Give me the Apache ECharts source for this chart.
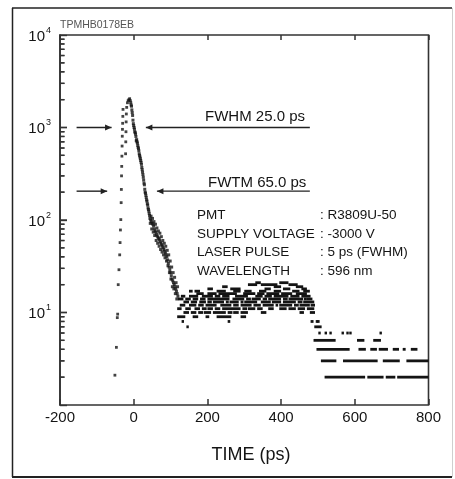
<!DOCTYPE html>
<html>
<head>
<meta charset="utf-8">
<script src="https://cdn.jsdelivr.net/npm/echarts@6/dist/echarts.min.js"></script>
<style>html,body{margin:0;padding:0;background:#fff;}#c{width:455px;height:479px;}</style>
</head>
<body>
<div id="c"></div>
<script>
// ---- data (time in ps, counts) ----
const riseT = [-51, -47, -44.5, -43.5, -42, -40, -38, -37, -36, -35, -34, -33.5, -33, -32.5, -32, -31.5, -31, -30.5, -30, -29.5, -29,
               -22, -21.5, -21, -20.5, -20, -19, -17, -15, -13, -11, -9];
const riseV = [2.1, 4.2, 8.8, 9.6, 20, 29, 42, 57, 78, 101, 154, 214, 300, 380, 490, 630, 805, 955, 1110, 1320, 1570,
               520, 700, 900, 1150, 1400, 1650, 1850, 1950, 2000, 2050, 1950];
const decayT = [-8, -6, -4, -2, 0, 2, 4, 6, 8, 10, 12, 14, 16, 18, 20, 22, 24, 26, 28, 30, 32, 34, 36, 38, 40, 42, 44, 46, 48, 50,
                52, 54, 56, 58, 60, 62, 64, 66, 68, 70, 72, 74, 76, 78, 80, 82, 84, 86, 88, 90, 92, 94, 96, 98, 100, 102, 104, 106, 108, 110,
                112, 114, 116, 118, 120];
const decayV = [1850, 1700, 1450, 1200, 1050, 960, 880, 800, 740, 680, 610, 560, 500, 460, 420, 370, 330, 290, 250, 215, 195, 175, 160, 145, 130, 118, 104, 100, 96, 92,
                90, 86, 80, 76, 74, 70, 67, 65, 63, 61, 58, 56, 54, 52, 50, 48, 46, 44, 42, 40, 37, 34, 31, 29, 27, 25, 23, 22, 21, 20,
                19, 18, 17, 16, 15];
const decay2T = [-7, -5, -3, -1, 1, 3, 5, 7, 9, 11, 13, 15, 17, 19, 21, 23, 25, 27, 29, 31, 33, 35, 37, 39, 41, 43, 45, 47, 49, 51,
                 53, 55, 57, 59, 61, 63, 65, 67, 69, 71, 73, 75, 77, 79, 81, 83, 85, 87, 89, 91, 93, 95, 97, 99, 101, 103, 105, 107, 109, 111,
                 113, 115, 117, 119];
const decay2V = [1750, 1550, 1350, 1100, 1000, 900, 850, 720, 700, 640, 590, 520, 480, 440, 400, 350, 310, 270, 240, 200, 185, 165, 150, 135, 125, 112, 92, 110, 80, 104,
                 74, 96, 68, 90, 60, 82, 56, 76, 52, 72, 48, 66, 45, 60, 42, 56, 39, 52, 36, 47, 32, 42, 27, 36, 23, 31, 19, 27, 18, 24,
                 16, 21, 14, 19];
// runs of channels at the same count: [t start, t end, count]
const plateauRuns = [
  [330, 345, 21], [395, 420, 21],
  [310, 335, 20], [345, 390, 20], [420, 445, 20],
  [240, 255, 19], [380, 400, 19], [440, 460, 19],
  [200, 215, 18], [262, 290, 18], [355, 372, 18], [405, 425, 18], [455, 470, 18],
  [150, 160, 17], [165, 180, 17], [225, 250, 17], [270, 290, 17], [300, 320, 17], [340, 360, 17], [380, 400, 17], [430, 450, 17], [460, 478, 17],
  [170, 190, 16], [200, 225, 16], [230, 280, 16], [297, 330, 16], [335, 355, 16], [360, 395, 16], [400, 430, 16], [440, 470, 16],
  [128, 140, 15], [150, 175, 15], [185, 215, 15], [220, 235, 15], [240, 260, 15], [275, 310, 15], [330, 350, 15], [355, 375, 15], [380, 420, 15], [425, 450, 15], [455, 480, 15],
  [120, 135, 14], [140, 155, 14], [160, 175, 14], [180, 195, 14], [200, 260, 14], [268, 300, 14], [305, 318, 14], [320, 345, 14], [350, 362, 14], [365, 400, 14], [405, 418, 14], [420, 460, 14], [462, 470, 14], [470, 485, 14],
  [135, 150, 13], [155, 172, 13], [178, 196, 13], [200, 212, 13], [215, 245, 13], [250, 258, 13], [260, 285, 13], [290, 298, 13], [300, 335, 13], [345, 372, 13], [375, 400, 13], [405, 440, 13], [445, 458, 13], [460, 490, 13],
  [125, 140, 12], [150, 170, 12], [175, 190, 12], [195, 225, 12], [235, 265, 12], [270, 285, 12], [290, 320, 12], [325, 345, 12], [350, 380, 12], [385, 392, 12], [395, 430, 12], [435, 448, 12], [450, 478, 12], [480, 492, 12],
  [118, 130, 11], [140, 155, 11], [165, 180, 11], [185, 198, 11], [200, 215, 11], [220, 235, 11], [240, 290, 11], [295, 308, 11], [310, 330, 11], [335, 350, 11], [365, 380, 11], [395, 415, 11], [420, 440, 11], [445, 465, 11], [470, 490, 11],
  [135, 150, 10], [155, 170, 10], [175, 188, 10], [190, 210, 10], [215, 250, 10], [255, 268, 10], [270, 285, 10], [290, 310, 10], [345, 360, 10], [450, 462, 10], [478, 492, 10],
  [118, 140, 9], [160, 175, 9], [195, 205, 9], [225, 265, 9], [290, 305, 9],
  [130, 136, 8], [255, 262, 8], [480, 488, 8],
  [143, 147, 7]
];
const tailRuns = [
  [494, 500, 8], [498, 503, 8],
  [490, 510, 7],
  [501, 504, 6], [518, 521, 6], [531, 534, 6], [564, 567, 6], [577, 580, 6], [585, 588, 6], [667, 670, 6],
  [488, 548, 5], [606, 626, 5], [650, 671, 5],
  [496, 586, 4], [610, 630, 4], [642, 660, 4], [665, 690, 4], [703, 720, 4], [730, 738, 4], [752, 770, 4],
  [508, 550, 3], [568, 662, 3], [676, 722, 3], [740, 800, 3],
  [518, 628, 2], [634, 678, 2], [684, 710, 2], [715, 800, 2]
];
const majorTicks = [10, 100, 1000];
const minorTicks = [2, 3, 4, 5, 6, 7, 8, 9, 20, 30, 40, 50, 60, 70, 80, 90, 200, 300, 400, 500, 600, 700, 800, 900,
                    2000, 3000, 4000, 5000, 6000, 7000, 8000, 9000];
// annotation levels and arrow ends (ps): [from, arrow tip]
const fwhmLevel = 1000, fwtmLevel = 205;
const fwhmArrows = [[-155, -60], [478, 33]];
const fwtmArrows = [[-155, -72], [478, 63]];
const infoLabels = ['PMT', 'SUPPLY VOLTAGE', 'LASER PULSE', 'WAVELENGTH'];
const infoValues = [': R3809U-50', ': -3000 V', ': 5 ps (FWHM)', ': 596 nm'];

const FONT = 'Liberation Sans, Arial, Helvetica, sans-serif';
const INK = '#141414';
const zip = (a, b) => a.map((v, i) => [v, b[i]]);

const runItem = function (params, api) {
  const p1 = api.coord([api.value(0), api.value(2)]);
  const p2 = api.coord([api.value(1), api.value(2)]);
  return {type: 'rect', shape: {x: p1[0], y: p1[1] - 1.4, width: Math.max(p2[0] - p1[0], 2.4), height: 2.8},
          style: {fill: INK}};
};
const minorItem = function (params, api) {
  const p = api.coord([api.value(0), api.value(1)]);
  return {type: 'rect', shape: {x: p[0], y: p[1] - 0.7, width: 4.5, height: 1.4}, style: {fill: '#333'}};
};
const arrowItem = function (params, api) {
  const a = api.coord([api.value(0), api.value(2)]);
  const b = api.coord([api.value(1), api.value(2)]);
  const dir = b[0] > a[0] ? 1 : -1;
  return {type: 'group', children: [
    {type: 'rect', shape: {x: Math.min(a[0], b[0]), y: a[1] - 0.7, width: Math.abs(b[0] - a[0]), height: 1.4}, style: {fill: '#222'}},
    {type: 'polygon', shape: {points: [[b[0], b[1]], [b[0] - dir * 6.5, b[1] - 3], [b[0] - dir * 6.5, b[1] + 3]]}, style: {fill: '#222'}}
  ]};
};
const arrowData = fwhmArrows.map(p => [p[0], p[1], fwhmLevel]).concat(fwtmArrows.map(p => [p[0], p[1], fwtmLevel]));

const graphic = [
  {id: 'f1', type: 'line', shape: {x1: 12, y1: 8, x2: 452, y2: 8}, style: {stroke: '#222', lineWidth: 1.5}},
  {id: 'f2', type: 'line', shape: {x1: 12.5, y1: 8, x2: 12.5, y2: 477}, style: {stroke: '#222', lineWidth: 1.5}},
  {id: 'f3', type: 'line', shape: {x1: 12, y1: 477, x2: 452, y2: 477}, style: {stroke: '#222', lineWidth: 2}},
  {id: 'f4', type: 'line', shape: {x1: 452.5, y1: 8, x2: 452.5, y2: 477}, style: {stroke: '#cfcfcf', lineWidth: 1}},
  {id: 'code', type: 'text', x: 60, y: 25, style: {text: 'TPMHB0178EB', fontSize: 10.5, fontFamily: FONT, fill: '#555', verticalAlign: 'middle'}},
  {id: 'fwhm', type: 'text', x: 205, y: 117, style: {text: 'FWHM 25.0 ps', fontSize: 15, fontFamily: FONT, fill: INK, verticalAlign: 'middle'}},
  {id: 'fwtm', type: 'text', x: 208, y: 183, style: {text: 'FWTM 65.0 ps', fontSize: 15, fontFamily: FONT, fill: INK, verticalAlign: 'middle'}},
  {id: 'xname', type: 'text', x: 251, y: 455, style: {text: 'TIME (ps)', fontSize: 18, fontFamily: FONT, fill: INK, align: 'center', verticalAlign: 'middle'}}
];
infoLabels.forEach((t, i) => {
  graphic.push({id: 'il' + i, type: 'text', x: 197, y: 215.5 + i * 18.5, style: {text: t, fontSize: 13.5, fontFamily: FONT, fill: INK, verticalAlign: 'middle'}});
  graphic.push({id: 'iv' + i, type: 'text', x: 320, y: 215.5 + i * 18.5, style: {text: infoValues[i], fontSize: 13.5, fontFamily: FONT, fill: INK, verticalAlign: 'middle'}});
});

const chart = echarts.init(document.getElementById('c'), null, {renderer: 'canvas'});
const xCommon = {type: 'value', min: -200, max: 800, interval: 200, splitLine: {show: false}, axisLine: {show: false, onZero: false}};
chart.setOption({
  animation: false,
  backgroundColor: '#fff',
  grid: {left: 60, top: 35, right: 26.5, bottom: 74, show: true, borderColor: '#333', borderWidth: 1.6, backgroundColor: 'transparent'},
  xAxis: [
    Object.assign({}, xCommon, {position: 'bottom',
      axisTick: {show: true, inside: true, length: 6, lineStyle: {color: '#333', width: 1.5}},
      axisLabel: {margin: 5, fontSize: 15, color: INK, fontFamily: FONT}}),
    Object.assign({}, xCommon, {position: 'top',
      axisTick: {show: true, inside: true, length: 5, lineStyle: {color: '#333', width: 1.5}},
      axisLabel: {show: false}})
  ],
  yAxis: {
    type: 'log', logBase: 10, min: 1, max: 10000, splitLine: {show: false},
    axisLine: {show: true, onZero: false, lineStyle: {color: '#333', width: 1.6}},
    axisTick: {show: true, inside: true, length: 7, lineStyle: {color: '#333', width: 1.4}},
    axisLabel: {
      margin: 9, color: INK, fontFamily: FONT,
      formatter: function (v) {
        const e = Math.round(Math.log10(v));
        return e === 0 ? '' : '{b|10}{s|' + e + '}';
      },
      rich: {
        b: {fontSize: 15, fontFamily: FONT, color: INK, lineHeight: 18, verticalAlign: 'bottom'},
        s: {fontSize: 9, fontFamily: FONT, color: INK, lineHeight: 18, verticalAlign: 'top', padding: [0, 0, 6, 1]}
      }
    }
  },
  graphic: graphic,
  series: [
    {type: 'custom', name: 'minor', data: minorTicks.map(v => [-200, v]), encode: {x: 0, y: 1}, renderItem: minorItem, silent: true, z: 5},
    {type: 'custom', name: 'arrows', data: arrowData, encode: {x: [0, 1], y: 2}, renderItem: arrowItem, silent: true},
    {type: 'scatter', name: 'rise', data: zip(riseT, riseV), symbol: 'rect', symbolSize: [2.8, 2.8], itemStyle: {color: INK}, silent: true},
    {type: 'scatter', name: 'decay', data: zip(decayT, decayV), symbol: 'rect', symbolSize: [3, 3], itemStyle: {color: INK}, silent: true},
    {type: 'scatter', name: 'decay2', data: zip(decay2T, decay2V), symbol: 'rect', symbolSize: [3, 3], itemStyle: {color: INK}, silent: true},
    {type: 'custom', name: 'plateau', data: plateauRuns, encode: {x: [0, 1], y: 2}, renderItem: runItem, silent: true},
    {type: 'custom', name: 'tail', data: tailRuns, encode: {x: [0, 1], y: 2}, renderItem: runItem, silent: true}
  ]
});

// y ticks also placed through the chart's own scale as graphic elements
try {
  const tg = [];
  const addTick = (v, len, w, k) => {
    const p = chart.convertToPixel({xAxisIndex: 0, yAxisIndex: 0}, [-200, v]);
    if (p && isFinite(p[0]) && isFinite(p[1])) {
      tg.push({id: 'tk' + k, type: 'rect', z: 100, shape: {x: p[0], y: p[1] - w / 2, width: len, height: w}, style: {fill: '#333'}});
    }
  };
  majorTicks.forEach((v, i) => addTick(v, 7, 1.4, 'M' + i));
  minorTicks.forEach((v, i) => addTick(v, 4.5, 1.3, 'm' + i));
  chart.setOption({graphic: tg});
} catch (e) {}
</script>
</body>
</html>
